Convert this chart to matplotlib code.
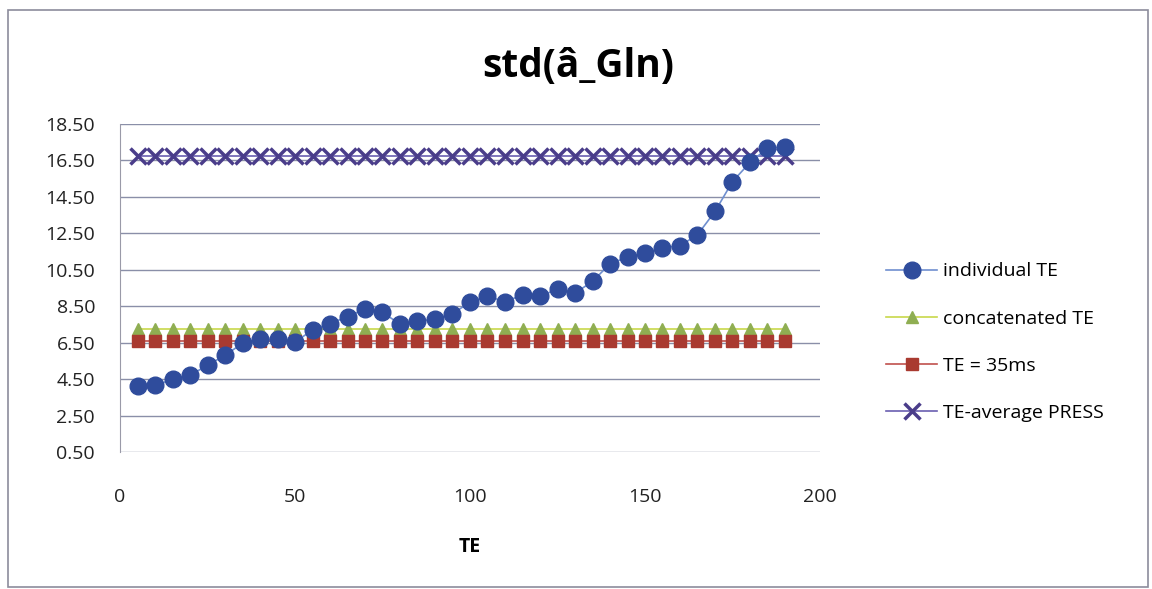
import matplotlib
matplotlib.use('Agg')
import matplotlib.pyplot as plt
from matplotlib.patches import Rectangle
from matplotlib.ticker import FormatStrFormatter

# === Dados ===
te = [5, 10, 15, 20, 25, 30, 35, 40, 45, 50, 55, 60, 65, 70, 75, 80, 85, 90, 95,
      100, 105, 110, 115, 120, 125, 130, 135, 140, 145, 150, 155, 160, 165, 170,
      175, 180, 185, 190]
individual_te = [4.11, 4.16, 4.48, 4.71, 5.26, 5.81, 6.46, 6.68, 6.68, 6.54,
                 7.19, 7.55, 7.92, 8.34, 8.16, 7.52, 7.68, 7.79, 8.10,
                 8.71, 9.07, 8.73, 9.13, 9.04, 9.44, 9.22, 9.86, 10.83, 11.19,
                 11.41, 11.72, 11.82, 12.42, 13.70, 15.34, 16.39, 17.17, 17.23]
concatenated_te = [7.25] * len(te)
te_35ms = [6.60] * len(te)
te_average_press = [16.72] * len(te)

y_ticks = [0.5, 2.5, 4.5, 6.5, 8.5, 10.5, 12.5, 14.5, 16.5, 18.5]
x_ticks = [0, 50, 100, 150, 200]

plt.rcParams['font.family'] = ['Open Sans', 'DejaVu Sans']

fig = plt.figure(figsize=(11.52, 5.89), dpi=100)
fig.patches.append(Rectangle((8 / 1152, 2 / 589), 1140 / 1152, 577 / 589,
                             transform=fig.transFigure, fill=False,
                             edgecolor='#8c8c9c', linewidth=1.2))

ax = fig.add_axes([120 / 1152, 137 / 589, 700 / 1152, 328 / 589])

ax.plot(te, individual_te, color='#6f8fcf', linewidth=1.2, marker='o',
        markersize=12, markerfacecolor='#2f4c9c', markeredgecolor='#2f4c9c',
        label='individual TE', zorder=4)
ax.plot(te, concatenated_te, color='#c8d84a', linewidth=1.2, marker='^',
        markersize=9, markerfacecolor='#8fae52', markeredgecolor='#8fae52',
        label='concatenated TE', zorder=3)
ax.plot(te, te_35ms, color='#c0504d', linewidth=1.2, marker='s',
        markersize=8, markerfacecolor='#a93a30', markeredgecolor='#a93a30',
        label='TE = 35ms', zorder=3)
ax.plot(te, te_average_press, color='#6a5fb0', linewidth=1.2, marker='x',
        markersize=11, markeredgewidth=2.5, markeredgecolor='#4a3d8a',
        label='TE-average PRESS', zorder=3)

ax.set_xlim(0, 200)
ax.set_ylim(0.5, 18.5)
ax.set_xticks(x_ticks)
ax.set_yticks(y_ticks)
ax.yaxis.set_major_formatter(FormatStrFormatter('%.2f'))
ax.grid(True, axis='y', color='#8a8fa8', linewidth=1)
ax.set_axisbelow(True)
for s in ['top', 'right', 'bottom']:
    ax.spines[s].set_visible(False)
ax.spines['left'].set_color('#9a9aa8')
ax.tick_params(axis='both', length=0, labelsize=14, colors='#222222')
ax.tick_params(axis='x', pad=26)
ax.tick_params(axis='y', pad=18)

ax.set_xlabel('TE', fontsize=14, fontweight='bold', labelpad=22)
fig.text(578 / 1152, 1 - 66 / 589, 'std(â_Gln)', fontsize=28,
         fontweight='bold', ha='center', va='center')

ax.legend(loc='center left', bbox_to_anchor=(1.07, 0.335), frameon=False,
          fontsize=14, labelspacing=1.5, handlelength=2.6, handletextpad=0.3)

plt.savefig('out.png', dpi=100)
